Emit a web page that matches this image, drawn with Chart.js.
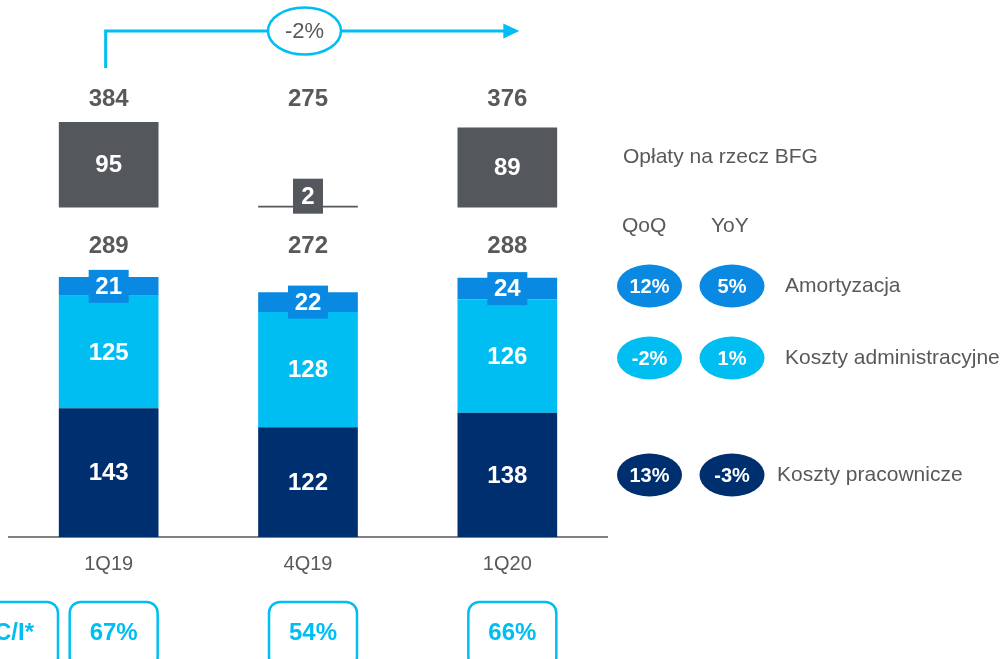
<!DOCTYPE html>
<html><head><meta charset="utf-8">
<script src="https://cdn.jsdelivr.net/npm/chart.js@4/dist/chart.umd.min.js"></script>
<style>html,body{margin:0;padding:0;background:#fff;overflow:hidden}#wrap{width:1007px;height:659px;position:relative}</style>
</head><body><div id="wrap"><canvas id="c" width="1007" height="659"></canvas></div>
<script>
// ---- data ----
const categories = ['1Q19', '4Q19', '1Q20'];
const personnel = [143, 122, 138];      // Koszty pracownicze
const admin = [125, 128, 126];          // Koszty administracyjne
const amort = [21, 22, 24];             // Amortyzacja
const bfg = [95, 2, 89];                // Opłaty na rzecz BFG
const subtotalLabels = ['289', '272', '288'];
const totalLabels = ['384', '275', '376'];
const ciValues = ['67%', '54%', '66%'];
const ciTitle = 'C/I*';
const totalChange = '-2%';
const seriesNames = ['Koszty pracownicze', 'Koszty administracyjne', 'Amortyzacja', 'Opłaty na rzecz BFG'];
const changeHeaders = ['QoQ', 'YoY'];
const qoqChange = ['13%', '-2%', '12%'];   // personnel, admin, amort
const yoyChange = ['-3%', '1%', '5%'];

// ---- styles / layout ----
const NAVY = '#002F6F', CYAN = '#00BEF2', BLUE = '#0A89E2', GREY = '#54575B', TXT = '#58595B';
const FONT = '"Liberation Sans", Arial, Helvetica, sans-serif';
const BFG_BASE = 366;   // floating offset for the BFG bar
const Y_MAX = 500;

function bold(s){ return 'bold ' + s + 'px ' + FONT; }
function reg(s){ return s + 'px ' + FONT; }

function ellipse(ctx, cx, cy, rx, ry, fill, stroke, lw){
  ctx.beginPath(); ctx.ellipse(cx, cy, rx, ry, 0, 0, Math.PI * 2);
  if (fill){ ctx.fillStyle = fill; ctx.fill(); }
  if (stroke){ ctx.strokeStyle = stroke; ctx.lineWidth = lw; ctx.stroke(); }
}
function rrect(ctx, x, y, w, h, r){
  ctx.beginPath();
  ctx.moveTo(x + r, y); ctx.lineTo(x + w - r, y); ctx.arcTo(x + w, y, x + w, y + r, r);
  ctx.lineTo(x + w, y + h - r); ctx.arcTo(x + w, y + h, x + w - r, y + h, r);
  ctx.lineTo(x + r, y + h); ctx.arcTo(x, y + h, x, y + h - r, r);
  ctx.lineTo(x, y + r); ctx.arcTo(x, y, x + r, y, r); ctx.closePath();
}

const labelPlugin = {
  id: 'labels',
  afterDatasetsDraw(chart){
    const ctx = chart.ctx, ys = chart.scales.y, xs = chart.scales.x;
    ctx.save();
    ctx.textAlign = 'center'; ctx.textBaseline = 'middle';
    // segment labels
    chart.data.datasets.forEach((ds, di) => {
      const meta = chart.getDatasetMeta(di);
      meta.data.forEach((bar, j) => {
        const p = bar.getProps(['x', 'y', 'base'], true);
        const top = Math.min(p.y, p.base), bot = Math.max(p.y, p.base);
        let cy = (top + bot) / 2;
        const val = di === 3 ? bfg[j] : ds.data[j];
        if (di === 2) {
          ctx.fillStyle = BLUE; ctx.fillRect(p.x - 20, cy - 16.5, 40, 33);
        }
        if (di === 3 && bot - top < 12) {
          cy = cy - 10.5;
          ctx.fillStyle = GREY; ctx.fillRect(p.x - 15, cy - 17.5, 30, 35);
        }
        ctx.fillStyle = '#fff'; ctx.font = bold(24);
        ctx.fillText(String(val), p.x, cy + 1);
      });
    });
    // subtotals and totals
    const sums = categories.map((c, i) => personnel[i] + admin[i] + amort[i]);
    const subY = ys.getPixelForValue(Math.max(...sums)) - 32;
    const totY = ys.getPixelForValue(Math.max(...bfg.map(v => BFG_BASE + v))) - 24;
    ctx.fillStyle = TXT; ctx.font = bold(24);
    categories.forEach((c, i) => {
      const x = xs.getPixelForValue(i);
      ctx.fillText(subtotalLabels[i], x, subY + 1);
      ctx.fillText(totalLabels[i], x, totY + 1);
    });
    ctx.restore();
  },
  afterDraw(chart){
    const ctx = chart.ctx, xs = chart.scales.x, area = chart.chartArea;
    ctx.save();
    ctx.textBaseline = 'middle';
    // top arrow
    const x0 = xs.getPixelForValue(0) - 3, x2 = xs.getPixelForValue(2) + 12;
    const ay = 31;
    ctx.strokeStyle = CYAN; ctx.lineWidth = 3;
    ctx.beginPath(); ctx.moveTo(x0, 68); ctx.lineTo(x0, ay); ctx.lineTo(x2 - 14, ay); ctx.stroke();
    ctx.fillStyle = CYAN;
    ctx.beginPath(); ctx.moveTo(x2 - 16, ay - 7.5); ctx.lineTo(x2, ay); ctx.lineTo(x2 - 16, ay + 7.5); ctx.closePath(); ctx.fill();
    const ex = xs.getPixelForValue(1) - 3.5;
    ellipse(ctx, ex, ay, 36.5, 23.5, '#fff', CYAN, 2.5);
    ctx.fillStyle = TXT; ctx.font = reg(22); ctx.textAlign = 'center';
    ctx.fillText(totalChange, ex, ay + 1);

    // right side annotations
    const R = area.right;
    ctx.textAlign = 'left'; ctx.fillStyle = TXT; ctx.font = reg(21);
    ctx.fillText(seriesNames[3], R + 16, 157);
    ctx.fillText(changeHeaders[0], R + 15, 226);
    ctx.fillText(changeHeaders[1], R + 104, 226);
    const rows = [
      { y: 475, color: NAVY, name: seriesNames[0], nx: R + 170, i: 0 },
      { y: 358, color: CYAN, name: seriesNames[1], nx: R + 178, i: 1 },
      { y: 286, color: BLUE, name: seriesNames[2], nx: R + 178, i: 2 }
    ];
    rows.forEach(r => {
      ellipse(ctx, R + 42.5, r.y, 32.5, 21.5, r.color);
      ellipse(ctx, R + 125, r.y, 32.5, 21.5, r.color);
      ctx.fillStyle = '#fff'; ctx.font = bold(20); ctx.textAlign = 'center';
      ctx.fillText(qoqChange[r.i], R + 42.5, r.y + 1);
      ctx.fillText(yoyChange[r.i], R + 125, r.y + 1);
      ctx.fillStyle = TXT; ctx.font = reg(21); ctx.textAlign = 'left';
      ctx.fillText(r.name, r.nx, r.y);
    });

    // C/I boxes
    const step = xs.getPixelForValue(1) - xs.getPixelForValue(0);
    const boxes = [{ cx: xs.getPixelForValue(0) - step / 2 + 5, t: ciTitle }].concat(
      ciValues.map((v, i) => ({ cx: xs.getPixelForValue(i) + 5, t: v })));
    ctx.strokeStyle = CYAN; ctx.lineWidth = 2.5;
    boxes.forEach(b => {
      rrect(ctx, b.cx - 44, 602, 88, 66, 11); ctx.stroke();
      ctx.fillStyle = CYAN; ctx.font = bold(24); ctx.textAlign = 'center';
      ctx.fillText(b.t, b.cx, 633);
    });
    ctx.restore();
  }
};

const common = { grouped: false, categoryPercentage: 1, barPercentage: 0.5, borderWidth: 0 };
new Chart(document.getElementById('c'), {
  type: 'bar',
  data: {
    labels: categories,
    datasets: [
      Object.assign({ label: seriesNames[0], data: personnel, backgroundColor: NAVY, stack: 'main' }, common),
      Object.assign({ label: seriesNames[1], data: admin, backgroundColor: CYAN, stack: 'main' }, common),
      Object.assign({ label: seriesNames[2], data: amort, backgroundColor: BLUE, stack: 'main' }, common),
      Object.assign({ label: seriesNames[3], data: bfg.map(v => [BFG_BASE, BFG_BASE + v]), backgroundColor: GREY, stack: 'bfg' }, common)
    ]
  },
  options: {
    responsive: false, animation: false, devicePixelRatio: 1,
    layout: { padding: { left: 9, right: 400, top: 87, bottom: 0 } },
    plugins: { legend: { display: false }, tooltip: { enabled: false } },
    scales: {
      x: {
        grid: { display: false, drawTicks: false },
        border: { display: true, color: '#808080', width: 2 },
        ticks: { color: TXT, font: { family: FONT, size: 20 }, padding: 15 },
        afterFit: s => { s.height = 122; }
      },
      y: { display: false, stacked: true, min: 0, max: Y_MAX }
    }
  },
  plugins: [labelPlugin]
});
</script></body></html>
